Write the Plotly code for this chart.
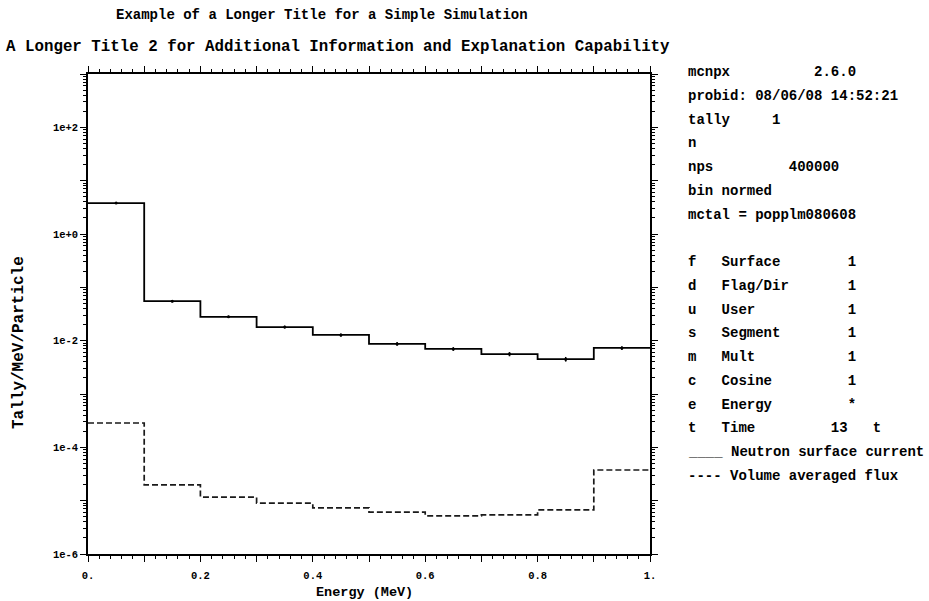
import plotly.graph_objects as go

# ---------------- data ----------------
energy_edges = [0.0, 0.1, 0.2, 0.3, 0.4, 0.5, 0.6, 0.7, 0.8, 0.9, 1.0]
surface_current = [3.8, 0.055, 0.028, 0.018, 0.0128, 0.0087, 0.0070, 0.0056, 0.0045, 0.0073]
surface_rel_err = [0.02, 0.05, 0.05, 0.06, 0.07, 0.08, 0.08, 0.09, 0.10, 0.08]
volume_flux = [2.86e-4, 1.97e-5, 1.17e-5, 9.0e-6, 7.3e-6, 6.1e-6, 5.2e-6, 5.4e-6, 6.7e-6, 3.76e-5]

x_tick_vals = [0.0, 0.1, 0.2, 0.3, 0.4, 0.5, 0.6, 0.7, 0.8, 0.9, 1.0]
x_tick_text = ["0.", "", "0.2", "", "0.4", "", "0.6", "", "0.8", "", "1."]
y_tick_vals = [1e-6, 1e-5, 1e-4, 1e-3, 1e-2, 1e-1, 1e0, 1e1, 1e2, 1e3]
y_tick_text = ["1e-6", "", "1e-4", "", "1e-2", "", "1e+0", "", "1e+2", ""]

title_1 = "Example of a Longer Title for a Simple Simulation"
title_2 = "A Longer Title 2 for Additional Information and Explanation Capability"
x_title = "Energy (MeV)"
y_title = "Tally/MeV/Particle"

info_lines = [
    "mcnpx          2.6.0",
    "probid: 08/06/08 14:52:21",
    "tally     1",
    "n",
    "nps         400000",
    "bin normed",
    "mctal = popplm080608",
    "",
    "f   Surface        1",
    "d   Flag/Dir       1",
    "u   User           1",
    "s   Segment        1",
    "m   Mult           1",
    "c   Cosine         1",
    "e   Energy         *",
    "t   Time         13   t",
    "____ Neutron surface current",
    "---- Volume averaged flux",
]

# ---------------- geometry (pixels) ----------------
W, H = 929, 601
L, R, T, B = 88, 650, 74, 554
pw, ph = R - L, B - T


def px_x(px):
    return (px - L) / pw


def px_y(py):
    return (B - py) / ph


FONT = "Liberation Mono"

fig = go.Figure()

# stepped histograms
fig.add_trace(go.Scatter(
    x=energy_edges, y=surface_current + [surface_current[-1]],
    mode="lines", line=dict(shape="hv", color="black", width=1.8),
    showlegend=False, hoverinfo="skip"))

centers = [(a + b) / 2 for a, b in zip(energy_edges[:-1], energy_edges[1:])]
fig.add_trace(go.Scatter(
    x=centers, y=surface_current, mode="markers",
    marker=dict(size=3, color="black"),
    error_y=dict(type="data",
                 array=[v * e for v, e in zip(surface_current, surface_rel_err)],
                 color="black", thickness=1.5, width=0, visible=True),
    showlegend=False, hoverinfo="skip"))

fig.add_trace(go.Scatter(
    x=energy_edges, y=volume_flux + [volume_flux[-1]],
    mode="lines", line=dict(shape="hv", color="#1a1a1a", width=1.7, dash="6px,3px"),
    showlegend=False, hoverinfo="skip"))

axis_common = dict(
    showline=True, linecolor="black", linewidth=1.5, mirror="ticks",
    ticks="outside", tickcolor="black", tickwidth=1.2, ticklen=6,
    showgrid=False, zeroline=False,
    tickfont=dict(family=FONT, size=10.5, color="black", weight="bold"),
)

minor_y = [m * 10 ** k for k in range(-6, 3) for m in range(2, 10)]

fig.update_xaxes(
    range=[0, 1], tickmode="array", tickvals=x_tick_vals, ticktext=x_tick_text,
    ticklabelstandoff=5,
    minor=dict(tickmode="linear", tick0=0, dtick=0.02, ticks="outside",
               ticklen=3, tickcolor="black", tickwidth=1, showgrid=False),
    **axis_common)
fig.update_yaxes(
    type="log", range=[-6, 3], tickmode="array", tickvals=y_tick_vals, ticktext=y_tick_text,
    minor=dict(tickmode="array", tickvals=minor_y, ticks="outside",
               ticklen=3, tickcolor="black", tickwidth=1, showgrid=False),
    **axis_common)

ann = []
ann.append(dict(text=title_1, x=px_x(322), y=px_y(15), xref="paper", yref="paper",
                xanchor="center", yanchor="middle", showarrow=False,
                font=dict(family=FONT, size=14, color="black", weight="bold")))
ann.append(dict(text=title_2, x=px_x(338), y=px_y(47), xref="paper", yref="paper",
                xanchor="center", yanchor="middle", showarrow=False,
                font=dict(family=FONT, size=15.8, color="black", weight="bold")))
ann.append(dict(text=x_title, x=px_x(364), y=px_y(592), xref="paper", yref="paper",
                xanchor="center", yanchor="middle", showarrow=False,
                font=dict(family=FONT, size=13.5, color="black", weight="bold")))
ann.append(dict(text=y_title, x=px_x(19), y=px_y(343), xref="paper", yref="paper",
                xanchor="center", yanchor="middle", showarrow=False, textangle=-90,
                font=dict(family=FONT, size=16, color="black", weight="bold")))

for i, line in enumerate(info_lines):
    if not line:
        continue
    ann.append(dict(text=line.replace(" ", "\u00a0"), x=px_x(686), y=px_y(72 + 23.75 * i),
                    xref="paper", yref="paper", xanchor="left", yanchor="middle",
                    showarrow=False,
                    font=dict(family=FONT, size=14, color="black", weight="bold")))

fig.update_layout(
    width=W, height=H,
    margin=dict(l=L, r=W - R, t=T, b=H - B, pad=0),
    paper_bgcolor="white", plot_bgcolor="white",
    annotations=ann, showlegend=False,
)

fig.write_html("out.html")
